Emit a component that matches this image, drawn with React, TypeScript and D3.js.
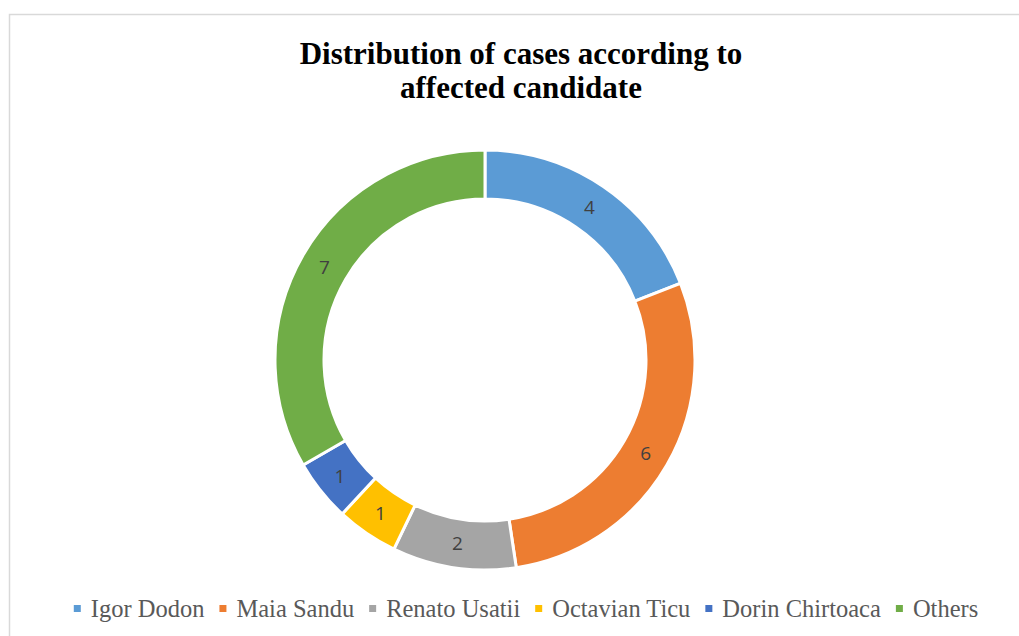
import React, { useEffect, useRef } from "react";
import * as d3 from "d3";

const categories = ["Igor Dodon", "Maia Sandu", "Renato Usatii", "Octavian Ticu", "Dorin Chirtoaca", "Others"];
const values = [4, 6, 2, 1, 1, 7];
const colors = ["#5B9BD5", "#ED7D31", "#A5A5A5", "#FFC000", "#4472C4", "#70AD47"];
const titleLines = ["Distribution of cases according to", "affected candidate"];

const W = 1019;
const H = 636;

export default function App() {
  const ref = useRef<SVGSVGElement>(null);
  useEffect(() => {
    const svg = d3.select(ref.current);
    svg.selectAll("*").remove();

    svg.append("rect").attr("x", 9.5).attr("y", 14.5).attr("width", 1040).attr("height", 640)
      .attr("fill", "#fff").attr("stroke", "#d9d9d9").attr("stroke-width", 1.5);

    const title = svg.append("text").attr("text-anchor", "middle")
      .attr("font-family", "'Liberation Serif', serif").attr("font-weight", "bold")
      .attr("font-size", 31).attr("fill", "#000");
    titleLines.forEach((t, i) => {
      title.append("tspan").attr("x", 521).attr("y", 64 + i * 34).text(t);
    });

    const cx = 485, cy = 360;
    const outer = 210, inner = 161;
    const pie = d3.pie<number>().sort(null).value(d => d);
    const arcs = pie(values);
    const arc = d3.arc<d3.PieArcDatum<number>>().innerRadius(inner).outerRadius(outer);
    const g = svg.append("g").attr("transform", `translate(${cx},${cy})`);
    g.selectAll("path.slice").data(arcs).enter().append("path")
      .attr("class", "slice")
      .attr("d", arc as any)
      .attr("fill", (_, i) => colors[i])
      .attr("stroke", "#fff").attr("stroke-width", 3);

    const labelArc = d3.arc<d3.PieArcDatum<number>>().innerRadius((inner + outer) / 2).outerRadius((inner + outer) / 2);
    g.selectAll("text.lbl").data(arcs).enter().append("text")
      .attr("class", "lbl")
      .attr("transform", d => `translate(${labelArc.centroid(d)})`)
      .attr("text-anchor", "middle").attr("dy", "0.36em")
      .attr("font-family", "'Open Sans', sans-serif").attr("font-size", 19)
      .attr("fill", "#404040")
      .text(d => String(d.data));

    // legend
    const lg = svg.append("g");
    const items = lg.selectAll("g.item").data(categories).enter().append("g").attr("class", "item");
    items.append("rect").attr("width", 7).attr("height", 7).attr("y", -12)
      .attr("fill", (_, i) => colors[i]);
    const texts = items.append("text").attr("x", 17).attr("y", 0)
      .attr("font-family", "'Liberation Serif', serif").attr("font-size", 24.5)
      .attr("fill", "#595959").text(d => d);
    const widths: number[] = [];
    texts.each(function () { widths.push((this as SVGTextElement).getComputedTextLength()); });
    const gap = 15;
    const itemW = widths.map(w => 17 + w);
    const total = d3.sum(itemW) + gap * (itemW.length - 1);
    let x = 526 - total / 2;
    items.each(function (_, i) {
      d3.select(this).attr("transform", `translate(${x},617)`);
      x += itemW[i] + gap;
    });
  }, []);
  return <svg ref={ref} width={W} height={H} style={{ position: "absolute", left: 0, top: 0 }} />;
}
